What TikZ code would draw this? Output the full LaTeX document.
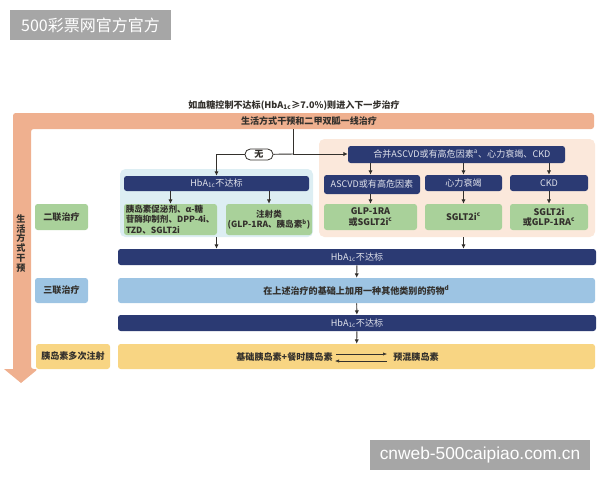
\documentclass[tikz,border=0pt]{standalone}
\usepackage{fontspec}
\setmainfont{Noto Sans CJK SC}
\newfontfamily\latinwm{Liberation Sans}
\usetikzlibrary{arrows.meta}
\definecolor{navy}{HTML}{2B3A73}
\definecolor{lifeorange}{HTML}{EFB08F}
\definecolor{peach}{HTML}{FBE8DB}
\definecolor{paleblue}{HTML}{DDEEF3}
\definecolor{leaf}{HTML}{A9D19A}
\definecolor{skyblue}{HTML}{9DC4E3}
\definecolor{straw}{HTML}{F8D583}
\definecolor{stamp}{HTML}{A6A6A6}
\definecolor{ink}{HTML}{33302C}
\newcommand{\hba}{HbA\textsubscript{1c}}
\newcommand{\bodyfont}{\fontsize{6.8}{7.8}\selectfont}

\begin{document}
\begin{tikzpicture}[
    x=0.75pt, y=-0.75pt,
    % GLOBAL CFG
    font=\bodyfont,
    >=LaTeX,
    % Styles
    sz/.style 2 args={% Size in pixels of the reference
        minimum width=#1*0.75pt,
        minimum height=#2*0.75pt,
        },
    box/.style={% Base of all boxes
        rectangle,
        rounded corners=2pt,
        inner sep=0pt,
        align=center,
        },
    navybox/.style={% For the headers
        box,
        fill=navy,
        text=white!85!navy,
        },
    drug/.style={% For the drug boxes
        box,
        fill=leaf,
        text=ink,
        font=\bodyfont\bfseries,
        },
    panel/.style={% Behind the boxes
        box,
        rounded corners=4pt,
        },
    band/.style={% For wide bars and stage labels
        box,
        text=ink,
        font=\bodyfont\bfseries,
        },
    plain/.style={% Free text
        inner sep=0pt,
        align=center,
        text=ink,
        font=\bodyfont\bfseries,
        },
    stampbox/.style={% The two grey stamps
        rectangle,
        fill=stamp,
        text=white,
        inner sep=0pt,
        },
    ArrowC1/.style={% Arrows between boxes
        ink,
        line width=.7pt,
        -{LaTeX[length=3.2pt,width=3.2pt]},
        },
    ArrowC2/.style={% Thin arrows of the exchange
        ink,
        line width=.4pt,
        -{LaTeX[length=3pt,width=2.4pt]},
        },
    ]

    \useasboundingbox (0,0) rectangle (600,480);

    % Draw the stamps
    \node [stampbox, sz={161}{30}, font=\fontsize{12}{14}\selectfont] (stamp1) at (90.5,25) {500彩票网官方官方};
    \node [stampbox, sz={220}{30}, font=\fontsize{13}{15}\selectfont] (stamp2) at (480,455) {\latinwm cnweb-500caipiao.com.cn};

    % Draw the lifestyle arrow
    \fill [lifeorange, rounded corners=2pt] (13,369) -- (13,113) -- (594,113) -- (594,129)
        -- (31,129) -- (31,369) -- (38,369) [sharp corners] -- (21,383) -- (4,369) -- cycle;
    \node [plain] (title) at (294,105) {如血糖控制不达标(\hba{}≥7.0\%)则进入下一步治疗};
    \node [plain, minimum height=16*0.75pt] (life) at (309,121) {生活方式干预和二甲双胍一线治疗};
    \node [plain, font=\fontsize{6.8}{7.4}\selectfont\bfseries] (lifev) at (21,243.5) {生\\活\\方\\式\\干\\预};

    % Draw panels
    \node [panel, fill=paleblue, sz={193}{68}] (lpanel) at (216.5,203) {};
    \node [panel, fill=peach, sz={276}{98}] (rpanel) at (457,188) {};

    % Draw stage labels
    \node [band, fill=leaf, sz={53}{26}] (stage2) at (61.5,217) {二联治疗};
    \node [band, fill=skyblue, sz={53}{25}] (stage3) at (61.5,290.5) {三联治疗};
    \node [band, fill=straw, sz={74}{25}] (stage4) at (73,356.5) {胰岛素多次注射};

    % Draw left branch
    \node [navybox, sz={185}{15}] (lhba) at (216.5,183.5) {\hba{}不达标};
    \node [drug, sz={93}{31}, align=left, font=\fontsize{6.4}{7.6}\selectfont\bfseries] (oral) at (170.5,219.5)
        {\makebox[67pt][l]{胰岛素促泌剂、α-糖}\\苷酶抑制剂、DPP-4i、\\TZD、SGLT2i};
    \node [drug, sz={86}{31}, font=\fontsize{6.4}{7.6}\selectfont\bfseries] (inject) at (269,219.5) {注射类\\(GLP-1RA、胰岛素\textsuperscript{b})};

    % Draw right branch
    \node [navybox, sz={217}{17}] (merge) at (456.5,154.5) {\hspace*{8pt}合并ASCVD或有高危因素\textsuperscript{a}、心力衰竭、CKD};
    \node [navybox, sz={96}{19}] (ascvd) at (372,184.5) {ASCVD或有高危因素};
    \node [navybox, sz={77}{16}] (hf) at (463.5,183) {心力衰竭};
    \node [navybox, sz={78}{16}] (ckd) at (549,183) {CKD};
    \node [drug, sz={93}{26}] (drug1) at (370.5,217) {GLP-1RA\\或SGLT2i\textsuperscript{c}};
    \node [drug, sz={77}{26}] (drug2) at (463.5,217) {SGLT2i\textsuperscript{c}};
    \node [drug, sz={78}{26}] (drug3) at (549,217) {SGLT2i\\或GLP-1RA\textsuperscript{c}};

    % Draw wide bars
    \node [navybox, sz={478}{16}] (bar1) at (357,257) {\hba{}不达标};
    \node [band, fill=skyblue, sz={477}{25}] (bar2) at (356.5,290.5) {在上述治疗的基础上加用一种其他类别的药物\textsuperscript{d}};
    \node [navybox, sz={478}{16}] (bar3) at (357,323) {\hba{}不达标};
    \node [band, fill=straw, sz={477}{25}] (bar4) at (356.5,356.5) {};
    \node [plain] (basal) at (284.5,357) {基础胰岛素+餐时胰岛素};
    \node [plain] (premix) at (416,357) {预混胰岛素};

    % Draw the switch
    \coordinate (junc) at (293,154);
    \node [draw=ink, fill=white, line width=.6pt, rounded corners=4pt, sz={28}{11}, inner sep=0pt, text=ink, font=\bodyfont\bfseries] (none) at (259,154.5) {无};

% Start connecting all.
    \draw [ink, line width=.7pt] (life.south -| junc) -- (junc);
    \draw [ink, line width=.7pt] (junc) -- (none);
    \draw [ArrowC1] (none) -| (lhba.north);
    \draw [ArrowC1] (junc) -- (merge.west |- junc);

    % Left branch
    \draw [ArrowC1] (lhba.south -| oral) -- (oral.north);
    \draw [ArrowC1] (lhba.south -| inject) -- (inject.north);

    % Right branch
    \draw [ArrowC1] (merge.south -| drug1) -- (ascvd.north -| drug1);
    \draw [ArrowC1] (merge.south -| hf) -- (hf.north);
    \draw [ArrowC1] (merge.south -| ckd) -- (ckd.north);
    \draw [ArrowC1] (ascvd.south -| drug1) -- (drug1.north);
    \draw [ArrowC1] (hf) -- (drug2);
    \draw [ArrowC1] (ckd) -- (drug3);

    % Down the stages
    \draw [ArrowC1] (lpanel.south) -- (lpanel.south |- bar1.north);
    \draw [ArrowC1] (rpanel.south -| hf) -- (bar1.north -| hf);
    \draw [ArrowC1] (bar1) -- (bar2);
    \draw [ArrowC1] (bar2) -- (bar3);
    \draw [ArrowC1] (bar3) -- (bar4);

    % Exchange between insulins
    \coordinate (swapa) at (336,354);
    \coordinate (swapb) at (387,354);
    \coordinate (swapc) at (335,361);
    \coordinate (swapd) at (387,361);
    \draw [ArrowC2] (swapa) -- (swapb);
    \draw [ArrowC2] (swapd) -- (swapc);

\end{tikzpicture}
\end{document}
